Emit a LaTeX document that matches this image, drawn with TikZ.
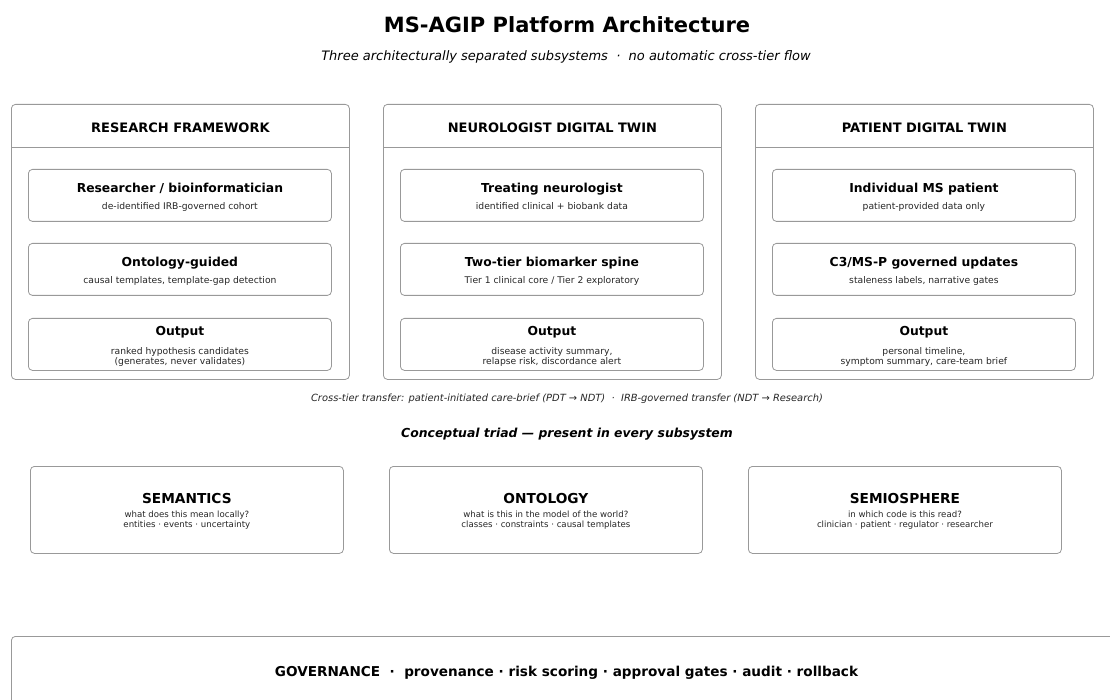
\documentclass[tikz,border=0pt]{standalone}
\usepackage{fontspec}
\setmainfont{DejaVu Sans}
\begin{document}
\begin{tikzpicture}[x=1pt,y=-1pt,
  frame/.style={draw=black!40,line width=0.8pt,rounded corners=4pt,fill=white,inner sep=0pt},
  panel/.style={frame,minimum width=338pt,minimum height=275pt,anchor=north west},
  inbox/.style={frame,minimum width=303pt,minimum height=52pt,anchor=north west},
  triad/.style={frame,minimum width=313pt,minimum height=87pt,anchor=north west},
  txt/.style={inner sep=0pt,anchor=base,align=center},
  hdr/.style={txt,font=\fontsize{13}{15}\selectfont\bfseries},
  ttl/.style={txt,font=\fontsize{12.35}{14}\selectfont\bfseries},
  sub/.style={txt,text=black!85,font=\fontsize{9.2}{10.3}\selectfont},
  trt/.style={txt,font=\fontsize{13.7}{15}\selectfont\bfseries},
  trs/.style={txt,text=black!85,font=\fontsize{8.6}{10}\selectfont}]
\useasboundingbox (0,0) rectangle (1110,700);
\clip (0,0) rectangle (1110,700);

% heading
\node[txt,font=\fontsize{21}{24}\selectfont\bfseries] (title) at (567,33) {MS-AGIP Platform Architecture};
\node[txt,font=\fontsize{13}{15}\selectfont\itshape] (subtitle) at (566,60.5)
  {Three architecturally separated subsystems \ · \ no automatic cross-tier flow};

% the three subsystems
\foreach \n/\x/\h/\ta/\sa/\tb/\sb/\oa/\ob in {
  R/11/{RESEARCH FRAMEWORK}/{Researcher / bioinformatician}/{de-identified IRB-governed cohort}/{Ontology-guided}/{causal templates, template-gap detection}/{ranked hypothesis candidates}/{(generates, never validates)},
  N/383/{NEUROLOGIST DIGITAL TWIN}/{Treating neurologist}/{identified clinical + biobank data}/{Two-tier biomarker spine}/{Tier 1 clinical core / Tier 2 exploratory}/{disease activity summary,}/{relapse risk, discordance alert},
  P/755/{PATIENT DIGITAL TWIN}/{Individual MS patient}/{patient-provided data only}/{C3/MS-P governed updates}/{staleness labels, narrative gates}/{personal timeline,}/{symptom summary, care-team brief}}{
  \node[panel] (\n) at (\x,104) {};
  \draw[black!40,line width=0.8pt] ([yshift=-43pt]\n.north west) -- ([yshift=-43pt]\n.north east);
  \node[hdr] (\n h) at ([yshift=-28.7pt]\n.north) {\h};
  \node[inbox] (\n 1) at (\x+17,169) {};
  \node[inbox] (\n 2) at (\x+17,243) {};
  \node[inbox] (\n 3) at (\x+17,318) {};
  \node[ttl] (\n 1t) at ([yshift=-23.2pt]\n 1.north) {\ta};
  \node[sub] (\n 1s) at ([yshift=-40.5pt]\n 1.north) {\sa};
  \node[ttl] (\n 2t) at ([yshift=-23.2pt]\n 2.north) {\tb};
  \node[sub] (\n 2s) at ([yshift=-40.5pt]\n 2.north) {\sb};
  \node[ttl] (\n 3t) at ([yshift=-17pt]\n 3.north) {Output};
  \node[sub] (\n 3s) at ([yshift=-46.5pt]\n 3.north) {\oa\\\ob};
}

% transfer note
\node[txt,font=\fontsize{9.9}{11}\selectfont\itshape,text=black!85] (xfer) at (567,401.5)
  {Cross-tier transfer: patient-initiated care-brief (PDT → NDT) \ · \ IRB-governed transfer (NDT → Research)};

% conceptual triad
\node[txt,font=\fontsize{12.4}{14}\selectfont\bfseries\itshape] (triadhead) at (567,437)
  {Conceptual triad — present in every subsystem};
\foreach \n/\x/\t/\sa/\sb in {
  S/30/SEMANTICS/{what does this mean locally?}/{entities · events · uncertainty},
  O/389/ONTOLOGY/{what is this in the model of the world?}/{classes · constraints · causal templates},
  M/748/SEMIOSPHERE/{in which code is this read?}/{clinician · patient · regulator · researcher}}{
  \node[triad] (\n) at (\x,466) {};
  \node[trt] (\n t) at ([yshift=-37.5pt]\n.north) {\t};
  \node[trs] (\n s) at ([yshift=-61.5pt]\n.north) {\sa\\\sb};
}

% governance band
\node[frame,minimum width=1120pt,minimum height=90pt,anchor=north west] (gov) at (11,636) {};
\node[txt,font=\fontsize{13.6}{16}\selectfont\bfseries] (govt) at (566.5,676)
  {GOVERNANCE \ · \ provenance · risk scoring · approval gates · audit · rollback};
\end{tikzpicture}
\end{document}
